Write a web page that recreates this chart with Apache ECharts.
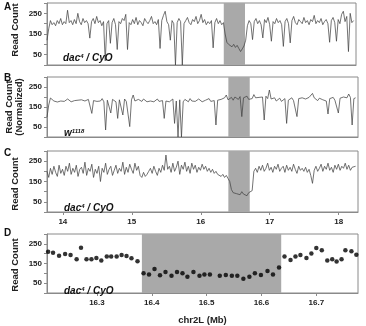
<!DOCTYPE html>
<html><head><meta charset="utf-8">
<script src="https://cdn.jsdelivr.net/npm/echarts@6/dist/echarts.min.js"></script>
<style>html,body{margin:0;padding:0;background:#fff}#c{width:366px;height:326px}</style>
</head><body><div id="c"></div>
<script>
// Binned read counts, chr2L 13.77–18.28 Mb (bin = 0.025 Mb)
const binStart = 13.77;
const binSize = 0.025;
const panelA = [
120,175,215,195,205,190,215,200,225,195,
210,200,265,205,215,195,220,200,250,210,
195,225,205,215,200,130,210,225,200,235,
205,215,190,210,20,200,215,105,205,225,
195,75,210,200,225,215,245,75,205,195,
220,200,230,195,215,205,190,225,210,200,
215,235,200,210,195,220,80,215,240,260,
210,195,120,215,200,0,205,225,210,0,
200,215,230,205,195,220,210,235,200,215,
245,205,220,195,210,200,215,83,205,225,
200,215,195,205,150,110,100,95,88,100,
85,95,80,65,78,92,120,190,215,200,
123,210,225,200,215,195,131,220,205,230,
195,115,210,200,225,205,215,195,90,210,
225,200,107,215,235,205,195,220,210,200,
230,205,215,195,220,210,240,200,215,205,
225,195,210,220,200,110,215,230,205,115,
220,200,245,260,210,235,65,250,205,215];
const panelB = [
100,160,195,185,180,190,175,185,180,188,
178,185,190,180,176,186,182,190,184,178,
186,192,180,176,188,184,118,182,190,178,
186,180,192,176,35,184,178,120,188,182,
176,93,186,180,110,190,178,184,52,186,
210,180,176,188,184,178,190,182,176,186,
180,188,176,184,190,178,186,182,93,180,
188,176,184,190,68,180,0,186,0,176,
188,182,176,192,180,186,178,184,190,182,
176,186,184,180,192,178,186,182,60,184,
180,188,192,196,210,186,190,198,184,200,
194,188,202,102,196,190,204,188,198,192,
212,196,186,198,190,200,85,204,192,235,
190,184,196,180,188,194,178,186,192,68,
184,190,196,182,188,102,192,186,196,200,
190,184,198,192,218,196,188,182,194,190,
186,196,180,115,192,186,198,184,190,120,
194,186,200,190,196,215,198,60,192,196];
const panelC = [
200,170,215,185,225,195,175,230,190,210,
180,225,200,240,185,215,195,230,175,210,
220,190,245,180,215,200,235,170,210,190,
225,150,215,195,240,185,210,225,180,205,
230,190,215,200,245,185,220,195,235,210,
190,240,205,225,180,170,195,175,185,200,
215,190,225,200,180,215,195,230,205,280,
210,225,195,240,200,220,250,185,230,210,
245,200,225,190,240,210,230,195,220,205,
235,210,225,200,215,195,210,190,200,185,
190,175,185,170,180,165,150,110,95,100,
90,98,85,100,88,92,80,95,90,105,
200,215,195,225,205,230,200,215,240,205,
220,195,225,210,235,200,215,225,195,230,
205,220,200,235,210,190,225,205,215,200,
220,195,210,180,141,205,225,200,215,235,
200,225,210,240,205,220,195,230,210,235,
205,225,215,240,210,230,205,220,215,225];
// Panel D: individual windows (Mb) and read counts
const dPos = [16.211,16.220,16.231,16.242,16.252,16.263,16.271,16.281,16.290,16.299,16.308,16.318,16.326,16.336,16.345,16.354,16.363,16.374,16.385,16.395,16.405,16.415,16.425,16.436,16.446,16.456,16.465,16.476,16.487,16.496,16.506,16.524,16.535,16.546,16.556,16.567,16.578,16.588,16.599,16.611,16.621,16.632,16.642,16.653,16.662,16.671,16.682,16.691,16.700,16.710,16.720,16.729,16.737,16.746,16.753,16.764,16.773];
const dVals = [210,205,190,198,193,172,230,172,172,178,165,185,185,185,193,188,177,162,100,94,122,90,107,88,107,100,82,107,88,94,94,88,91,88,88,72,82,100,91,112,94,130,185,168,185,193,178,201,229,217,165,172,160,172,217,212,194];
// Deleted regions (Mb)
const grayA = [16.35, 16.66];
const grayBC = [16.40, 16.71];
const grayD = [16.382, 16.636];
const ticksC = [14, 15, 16, 17, 18];
const ticksD = [16.3, 16.4, 16.5, 16.6, 16.7];
const yTickLabels = [50, 150, 250];

const FF = 'Liberation Sans, Arial, sans-serif';
const axisCol = '#8a8a8a';
const grids = [
  {left:47, right:10, top:3, height:62},
  {left:47, right:8, top:77, height:60},
  {left:47, right:8, top:151, height:61},
  {left:47, right:8, top:234, height:62}
].map(g => Object.assign(g, {show:true, borderColor:axisCol, borderWidth:1, backgroundColor:'transparent'}));

function yAx(gi){
  return {gridIndex:gi, type:'value', min:0, max:300, interval:50,
    axisLine:{show:true, lineStyle:{color:axisCol}},
    axisTick:{show:true, length:3, lineStyle:{color:axisCol}},
    axisLabel:{fontFamily:FF, fontWeight:'bold', fontSize:8, color:'#222', margin:5,
      formatter: v => yTickLabels.indexOf(v) >= 0 ? String(v) : ''},
    splitLine:{show:false}};
}
function xAx(gi, min, max, ticks, dec, extra){
  const base = {gridIndex:gi, type:'value', min:min, max:max,
    axisLine:{show:true, lineStyle:{color:axisCol}},
    axisTick:{show:!!ticks, length:3, lineStyle:{color:axisCol}, customValues:ticks||undefined},
    axisLabel:{show:!!ticks, fontFamily:FF, fontWeight:'bold', fontSize:8, color:'#222', margin:6,
      customValues:ticks||undefined, formatter: v => Number(v).toFixed(dec)},
    splitLine:{show:false}};
  return Object.assign(base, extra||{});
}
const toXY = arr => arr.map((v,i) => [+(binStart + i*binSize).toFixed(3), v]);
function lineS(gi, vals, gray){
  return {type:'line', xAxisIndex:gi, yAxisIndex:gi, data:toXY(vals), showSymbol:false,
    lineStyle:{color:'#444', width:0.75}, animation:false, z:3,
    markArea:{silent:true, itemStyle:{color:'#a9a9a9', opacity:1}, data:[[{xAxis:gray[0]},{xAxis:gray[1]}]]}};
}
const chart = echarts.init(document.getElementById('c'), null, {renderer:'canvas'});
const italicRich = {
  a:{fontFamily:FF, fontWeight:'bold', fontStyle:'italic', fontSize:10, fill:'#111'},
  s:{fontFamily:FF, fontWeight:'bold', fontStyle:'italic', fontSize:6, fill:'#111', verticalAlign:'top', padding:[0,0,5,0]}
};
const yName = (x, y, t) => ({type:'text', x:x, y:y, rotation:Math.PI/2, z:10,
  style:{text:t, font:'bold 9.5px '+FF, fill:'#222', textAlign:'center', textVerticalAlign:'middle'}});
chart.setOption({
  animation:false,
  grid: grids,
  xAxis: [
    xAx(0, 13.77, 18.28, null, 0),
    xAx(1, 13.77, 18.28, null, 0),
    xAx(2, 13.77, 18.28, ticksC, 0),
    xAx(3, 16.209, 16.776, ticksD, 1, {name:'chr2L (Mb)', nameLocation:'middle', nameGap:22,
      nameTextStyle:{fontFamily:FF, fontWeight:'bold', fontSize:9.5, color:'#222'}})
  ],
  yAxis: [yAx(0), yAx(1), yAx(2), yAx(3)],
  series: [
    lineS(0, panelA, grayA),
    lineS(1, panelB, grayBC),
    lineS(2, panelC, grayBC),
    {type:'scatter', xAxisIndex:3, yAxisIndex:3, data:dPos.map((x,i)=>[x,dVals[i]]), symbolSize:4.5,
      itemStyle:{color:'#000'}, animation:false, z:3,
      markArea:{silent:true, itemStyle:{color:'#a9a9a9', opacity:1}, data:[[{xAxis:grayD[0]},{xAxis:grayD[1]}]]}}
  ],
  graphic: [
    yName(15, 30, 'Read Count'),
    yName(9, 107, 'Read Count'),
    yName(19, 107, '(Normalized)'),
    yName(15, 184, 'Read Count'),
    yName(15, 265, 'Read Count'),
    {type:'text', left:4, top:2, style:{text:'A', font:'bold 10px '+FF, fill:'#111'}},
    {type:'text', left:4, top:73, style:{text:'B', font:'bold 10px '+FF, fill:'#111'}},
    {type:'text', left:4, top:148, style:{text:'C', font:'bold 10px '+FF, fill:'#111'}},
    {type:'text', left:4, top:228, style:{text:'D', font:'bold 10px '+FF, fill:'#111'}},
    {type:'text', left:63, top:53, z:10, style:{text:'{a|dac}{s|4}{a| / CyO}', rich:italicRich}},
    {type:'text', left:64, top:128, z:10, style:{text:'{a|w}{s|1118}', rich:italicRich}},
    {type:'text', left:64, top:203, z:10, style:{text:'{a|dac}{s|4}{a| / CyO}', rich:italicRich}},
    {type:'text', left:64, top:286, z:10, style:{text:'{a|dac}{s|4}{a| / CyO}', rich:italicRich}}
  ]
});
</script></body></html>
